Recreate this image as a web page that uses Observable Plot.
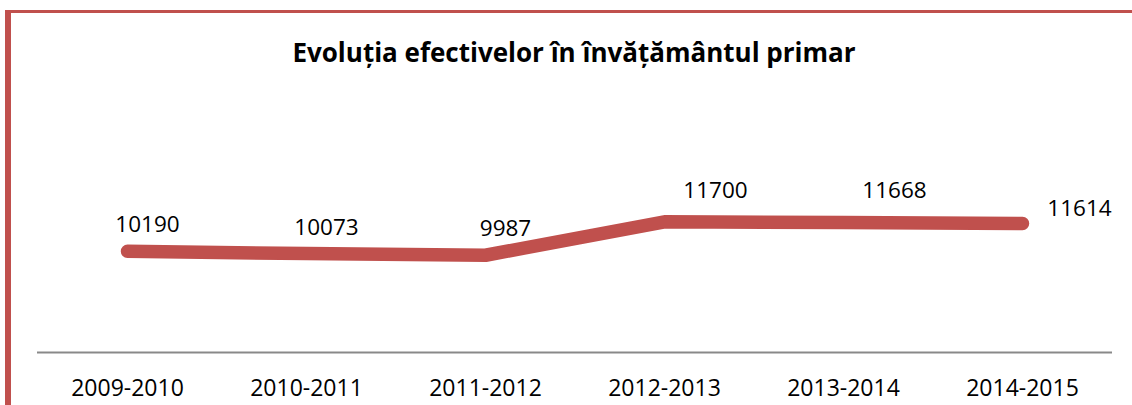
<!DOCTYPE html>
<html>
<head>
<meta charset="utf-8">
<script src="https://cdn.jsdelivr.net/npm/d3@7"></script>
<script src="https://cdn.jsdelivr.net/npm/@observablehq/plot@0.6"></script>
<style>
  html, body { margin: 0; padding: 0; background: #fff; }
  #wrap { position: relative; width: 1132px; height: 405px; overflow: hidden; font-family: "Open Sans", sans-serif; }
  .border-top { position: absolute; left: 5px; top: 10px; width: 1127px; height: 3px; background: #C0504D; }
  .border-left { position: absolute; left: 5px; top: 10px; width: 6px; height: 395px; background: #C0504D; }
  #title { position: absolute; left: 0; top: 0; width: 1148px; height: 80px; box-sizing: border-box; padding-top: 34px;
           line-height: 36px; text-align: center; font-weight: 700; font-size: 26px; color: #000; }
  #chart { position: absolute; left: 0; top: 80px; }
</style>
</head>
<body>
<div id="wrap">
  <div class="border-top"></div>
  <div class="border-left"></div>
  <div id="title">Evoluția efectivelor în învățământul primar</div>
  <div id="chart"></div>
</div>
<script>
const years = ["2009-2010", "2010-2011", "2011-2012", "2012-2013", "2013-2014", "2014-2015"];
const values = [10190, 10073, 9987, 11700, 11668, 11614];
const yDomain = [5000, 15000];

const data = years.map((year, i) => ({year, value: values[i], i}));
const lineColor = "#C0504D";

const chart = Plot.plot({
  width: 1132,
  height: 325,
  marginLeft: 37,
  marginRight: 20,
  marginTop: 77,
  marginBottom: 53,
  x: {type: "point", domain: years, padding: 0.5},
  y: {domain: yDomain, axis: null},
  style: {fontFamily: "'Open Sans', sans-serif", background: "transparent", overflow: "visible", color: "#000"},
  marks: [
    Plot.ruleY([yDomain[0]], {stroke: "#898989", strokeWidth: 2}),
    Plot.axisX({tickSize: 0, tickPadding: 27, fontSize: 23, label: null}),
    Plot.line(data, {x: "year", y: "value", stroke: lineColor, strokeWidth: 13.5, strokeLinecap: "round", strokeLinejoin: "round"}),
    Plot.text(data, {filter: d => d.i < 3, x: "year", y: "value", text: d => String(d.value), dx: 20, dy: -19, lineAnchor: "bottom", fontSize: 22.5, fill: "#000"}),
    Plot.text(data, {filter: d => d.i >= 3 && d.i < 5, x: "year", y: "value", text: d => String(d.value), dx: 51, dy: -24, lineAnchor: "bottom", fontSize: 22.5, fill: "#000"}),
    Plot.text(data, {filter: d => d.i === 5, x: "year", y: "value", text: d => String(d.value), dx: 57, dy: -8, lineAnchor: "bottom", fontSize: 22.5, fill: "#000"})
  ]
});
document.getElementById("chart").appendChild(chart);
</script>
</body>
</html>
